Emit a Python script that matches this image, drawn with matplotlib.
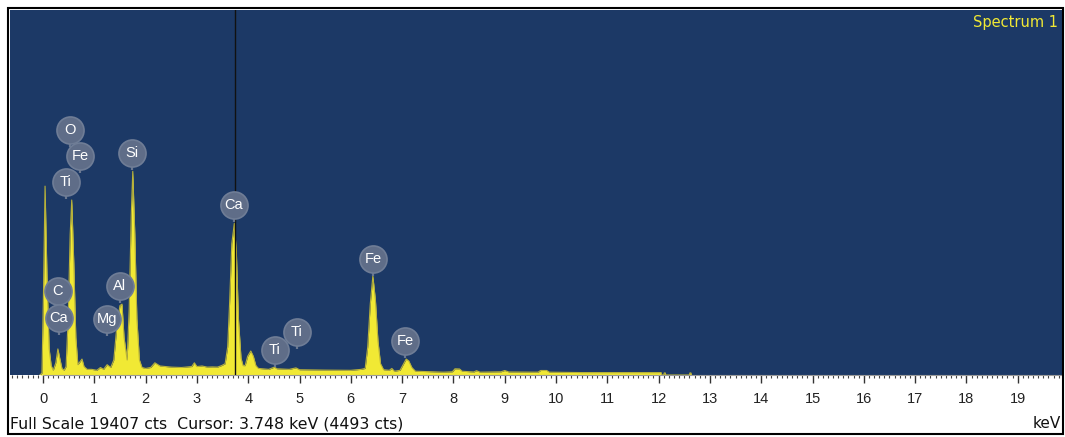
import matplotlib
matplotlib.use("Agg")
import matplotlib.pyplot as plt
from matplotlib.patches import Rectangle
from matplotlib.ticker import MultipleLocator

# ---- data ----
energy_keV = [-0.06, -0.02, 0.01, 0.04, 0.08, 0.12, 0.16, 0.20, 0.25, 0.29, 0.33, 0.37, 0.41,
              0.45, 0.49, 0.53, 0.56, 0.60, 0.64, 0.68, 0.72, 0.76, 0.80, 0.86, 0.95, 1.05,
              1.12, 1.18, 1.25, 1.32, 1.38, 1.44, 1.50, 1.54, 1.58, 1.64, 1.68, 1.72, 1.75,
              1.79, 1.83, 1.88, 1.93, 2.00, 2.10, 2.18, 2.28, 2.50, 2.70, 2.90, 2.95, 3.00,
              3.10, 3.20, 3.30, 3.40, 3.48, 3.55, 3.60, 3.64, 3.68, 3.73, 3.77, 3.81, 3.86,
              3.90, 3.94, 3.99, 4.05, 4.10, 4.15, 4.20, 4.40, 4.51, 4.56, 4.80, 4.93, 5.00,
              5.50, 6.00, 6.20, 6.28, 6.33, 6.38, 6.43, 6.48, 6.53, 6.58, 6.64, 6.75, 6.80,
              6.85, 6.96, 7.02, 7.08, 7.13, 7.19, 7.26, 7.50, 7.80, 7.98, 8.03, 8.12, 8.17,
              8.40, 8.45, 8.52, 8.93, 9.00, 9.08, 9.65, 9.70, 9.82, 9.87, 10.5, 11.2, 12.05,
              12.06, 12.10, 12.11, 12.13, 12.14, 12.60, 12.61, 12.63, 12.64]
counts = [0, 100, 4480, 10070, 5010, 1400, 500, 250, 650, 1390, 850, 350, 250,
          450, 3000, 7500, 9330, 6000, 2000, 550, 700, 850, 450, 300, 300, 250,
          400, 300, 550, 400, 800, 2600, 3700, 3780, 2000, 800, 3500, 8500, 10860,
          7500, 3000, 800, 400, 350, 400, 650, 480, 420, 400, 450, 650, 450,
          480, 420, 430, 420, 500, 600, 1500, 4000, 7000, 8090, 6500, 3000, 900,
          500, 500, 1000, 1280, 1000, 500, 350, 300, 420, 330, 300, 380, 280,
          260, 250, 300, 350, 1500, 3800, 5280, 4000, 1800, 600, 280, 250, 350,
          200, 250, 550, 850, 750, 400, 200, 180, 150, 170, 330, 320, 200,
          160, 230, 150, 170, 240, 160, 150, 240, 240, 150, 130, 130, 130,
          0, 0, 110, 110, 0, 0, 110, 110, 0]

label_names = ["O", "Fe", "Ti", "Si", "C", "Ca", "Al", "Mg", "Ca", "Fe", "Ti", "Ti", "Fe"]
label_keV = [0.526, 0.721, 0.448, 1.735, 0.292, 0.312, 1.501, 1.248, 3.723, 6.433, 4.522, 4.951, 7.057]
label_cts = [13060, 11670, 10290, 11830, 4480, 3040, 4740, 2980, 9060, 6180, 1330, 2290, 1810]

major_ticks = list(range(0, 20))
full_scale = 19407
cursor_keV = 3.748
cursor_cts = 4493

# ---- figure ----
W, H = 1065, 437
fig = plt.figure(figsize=(W / 100, H / 100), dpi=100)
fig.patch.set_facecolor("white")
plt.rcParams["font.family"] = ["Liberation Sans", "DejaVu Sans"]

ax = fig.add_axes([10 / W, (H - 375) / H, 1052 / W, 365 / H])
bg = "#1c3966"
ax.set_facecolor(bg)
px_per_keV = 51.3
xmin = -33 / px_per_keV
ax.set_xlim(xmin, xmin + 1052 / px_per_keV)
ax.set_ylim(0, full_scale * 365 / 364)

ax.fill_between(energy_keV, counts, 0, color="#f1e934", lw=0, zorder=2)
ax.plot(energy_keV, counts, color="#b9b23a", lw=0.8, zorder=3)

# cursor line
ax.axvline(cursor_keV, color="#111111", lw=1.0, zorder=4)

# element labels
c_per_px = full_scale / 364
for name, e, c in zip(label_names, label_keV, label_cts):
    ax.plot([e, e], [c - 17 * c_per_px, c], color="#6a7890", lw=1.6, zorder=5,
            solid_capstyle="butt")
    ax.scatter([e], [c], s=380, color="#5f6d88", edgecolors="#6f7d96", linewidths=1.2,
               zorder=6)
    ax.text(e, c, name, color="white", fontsize=10.5, ha="center", va="center", zorder=7)

ax.text(0.996, 0.967, "Spectrum 1", transform=ax.transAxes, color="#f1e934",
        fontsize=10.5, family="DejaVu Sans", ha="right", va="center")

# ruler axis
for s in ["left", "right", "top"]:
    ax.spines[s].set_visible(False)
ax.spines["bottom"].set_color("#9a9a9a")
ax.spines["bottom"].set_bounds(0, xmin + 1052 / px_per_keV)
ax.set_yticks([])
ax.set_xticks(major_ticks)
ax.set_xticklabels([str(t) for t in major_ticks])
ax.xaxis.set_minor_locator(MultipleLocator(0.1))
ax.tick_params(axis="x", which="major", direction="out", length=6, width=1.0,
               color="#333333", labelsize=10.5, pad=6, labelcolor="#222222")
ax.tick_params(axis="x", which="minor", direction="out", length=2.5, width=0.8,
               color="#444444")

fig.text(10 / W, 1 - 424 / H, f"Full Scale {full_scale} cts  Cursor: {cursor_keV:.3f} keV ({cursor_cts} cts)",
         fontsize=11.3, family="DejaVu Sans", ha="left", va="center", color="#111111")
fig.text(1061 / W, 1 - 424 / H, "keV", fontsize=11, family="DejaVu Sans",
         ha="right", va="center", color="#111111")

# outer frame
fig.add_artist(Rectangle((8 / W, (H - 434) / H), 1055 / W, 426 / H, transform=fig.transFigure,
                         fill=False, edgecolor="black", lw=1.5))

fig.savefig("out.png", dpi=100, facecolor="white")
